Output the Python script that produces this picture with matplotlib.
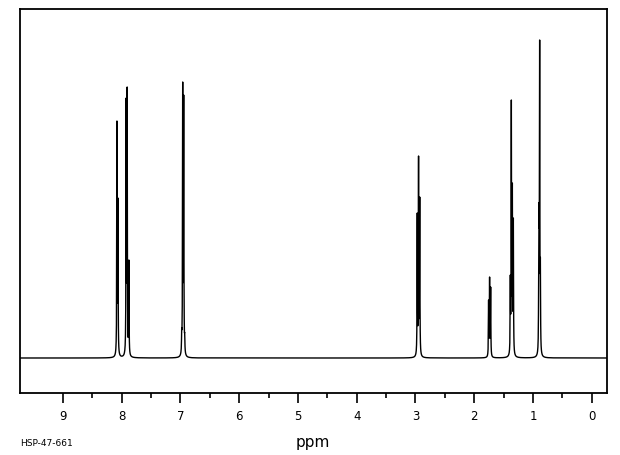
import numpy as np
import matplotlib.pyplot as plt

plt.rc('font', family='DejaVu Sans')

# peak list: chemical shift (ppm) and apparent top (baseline = 0)
shift = [8.080, 8.063,
         7.923, 7.906, 7.877,
         6.978, 6.961, 6.944, 6.927,
         2.969, 2.947, 2.927,
         1.755, 1.738, 1.720,
         1.385, 1.368, 1.351, 1.334,
         0.903, 0.896, 0.886, 0.874]
top = [237, 160,
       260, 271, 98,
       30, 276, 263, 25,
       145, 202, 161,
       58, 81, 71,
       83, 258, 175, 140,
       81, 155, 318, 100]
hwhm = 0.0035

shift = np.array(shift)
top = np.array(top, dtype=float)


def lorentz(x, s):
    return 1 / (1 + ((x - s) / hwhm) ** 2)


# line intensities so that the summed curve reaches the read tops
A = lorentz(shift[:, None], shift[None, :])
height = np.linalg.solve(A, top)

ppm = np.linspace(-0.3, 9.8, 40401)
spec = np.zeros_like(ppm)
for s, h in zip(shift, height):
    spec += h * lorentz(ppm, s)

fig = plt.figure(figsize=(6.2, 4.55), dpi=100)
ax = fig.add_axes([20/620, 1-393/455, 587/620, 384/455])
ax.plot(ppm, spec, color='black', linewidth=1.0)

ax.set_xlim(9.73, -0.26)
ax.set_ylim(-35, 349)
ax.set_xticks(np.arange(0, 10, 1))
ax.set_xticks(np.arange(0.5, 9, 1), minor=True)
ax.set_yticks([])
ax.tick_params(axis='x', which='major', direction='out', length=7.5, width=1.2,
               labelsize=8.5, pad=5)
ax.tick_params(axis='x', which='minor', direction='out', length=3.8, width=1.2)
for sp in ax.spines.values():
    sp.set_linewidth(1.3)

fig.text(312.5/620, 1-443/455, 'ppm', fontsize=11, ha='center', va='center')
fig.text(20/620, 1-444/455, 'HSP-47-661', fontsize=6.5, ha='left', va='center')

plt.savefig('out.png', dpi=100)
